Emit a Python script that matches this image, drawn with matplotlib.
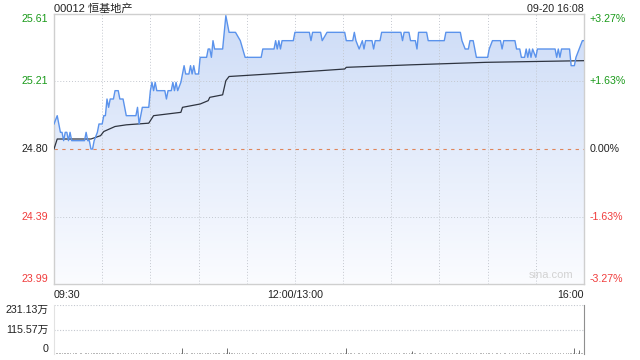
"""Intraday minute chart for 00012 (sina style): price + average line, volume below."""
import numpy as np
import matplotlib
matplotlib.use("Agg")
import matplotlib.pyplot as plt
from matplotlib.colors import LinearSegmentedColormap

plt.rcParams["font.family"] = ["Liberation Sans", "Noto Sans CJK SC", "DejaVu Sans"]

# ---- data ----
title = "00012 恒基地产"
stamp = "09-20 16:08"
prev_close = 24.80
y_ticks = [25.61, 25.21, 24.80, 24.39, 23.99]
pct_labels = ["+3.27%", "+1.63%", "0.00%", "-1.63%", "-3.27%"]
x_labels = ["09:30", "12:00/13:00", "16:00"]
x_label_pos = [0, 150, 330]
vol_labels = ["231.13万", "115.57万", "0"]
vol_max = 231.13

# minute index (0 = 09:30, 150 = 12:00/13:00, 330 = 16:00) and price
price_t = [0, 2, 3, 4, 5, 6, 7, 8, 9, 10, 11, 19, 20, 21, 22, 23, 24, 25, 27, 28,
           30, 31, 32, 33, 34, 35, 37, 38, 40, 41, 43, 45, 51, 52, 53, 55, 59, 60,
           61, 62, 63, 64, 69, 70, 71, 73, 74, 75, 76, 77, 79, 81, 82, 84, 85, 86,
           87, 88, 90, 91, 95, 96, 97, 98, 99, 100, 105, 107, 109, 113, 116, 119,
           129, 130, 137, 138, 139, 140, 141, 142, 149, 150, 159, 160, 161, 166,
           167, 170, 181, 182, 186, 187, 188, 190, 192, 193, 194, 198, 199, 200,
           203, 204, 216, 217, 218, 221, 222, 225, 226, 227, 232, 233, 243, 244,
           253, 254, 256, 258, 259, 261, 262, 263, 270, 271, 273, 278, 279, 280,
           287, 288, 290, 291, 293, 294, 295, 296, 297, 298, 300, 301, 312, 313,
           314, 315, 316, 321, 322, 324, 325, 327, 329, 330]
price_v = [24.95, 25.00, 24.95, 24.90, 24.90, 24.85, 24.90, 24.90, 24.85, 24.90,
           24.85, 24.85, 24.90, 24.85, 24.85, 24.80, 24.80, 24.85, 24.90, 24.95,
           24.95, 25.00, 25.00, 25.10, 25.05, 25.10, 25.10, 25.15, 25.15, 25.10,
           25.10, 25.00, 25.00, 25.05, 24.95, 25.05, 25.05, 25.15, 25.20, 25.15,
           25.20, 25.15, 25.15, 25.10, 25.15, 25.15, 25.20, 25.15, 25.20, 25.15,
           25.20, 25.30, 25.25, 25.25, 25.30, 25.25, 25.30, 25.25, 25.25, 25.35,
           25.35, 25.40, 25.40, 25.35, 25.45, 25.40, 25.40, 25.60, 25.50, 25.50,
           25.45, 25.35, 25.35, 25.40, 25.40, 25.45, 25.40, 25.45, 25.40, 25.45,
           25.45, 25.50, 25.50, 25.45, 25.50, 25.50, 25.45, 25.50, 25.50, 25.45,
           25.45, 25.50, 25.45, 25.40, 25.45, 25.40, 25.45, 25.45, 25.40, 25.45,
           25.45, 25.50, 25.50, 25.45, 25.50, 25.50, 25.45, 25.45, 25.40, 25.50,
           25.50, 25.45, 25.45, 25.50, 25.50, 25.45, 25.40, 25.40, 25.45, 25.45,
           25.40, 25.35, 25.35, 25.40, 25.45, 25.45, 25.40, 25.45, 25.45, 25.40,
           25.40, 25.35, 25.35, 25.40, 25.35, 25.40, 25.35, 25.40, 25.35, 25.40,
           25.40, 25.35, 25.40, 25.35, 25.40, 25.40, 25.30, 25.30, 25.35, 25.40,
           25.45, 25.45]

avg_t = [0, 2, 23, 26, 29, 31, 38, 45, 52, 59, 60, 62, 79, 80, 91, 96, 97, 105,
         107, 109, 134, 166, 181, 182, 222, 269, 330]
avg_v = [24.80, 24.86, 24.86, 24.87, 24.88, 24.905, 24.935, 24.945, 24.95, 24.955,
         24.97, 25.00, 25.02, 25.05, 25.07, 25.09, 25.11, 25.125, 25.21, 25.235,
         25.25, 25.27, 25.28, 25.29, 25.305, 25.32, 25.33]

# volume per minute, in 万 shares
volume = [
    9, 6, 5, 7, 4, 6, 5, 3, 4, 6, 3, 2, 4, 3, 5, 2, 3, 4, 2, 3, 5, 3, 2, 4, 3, 6, 4, 5, 3, 4,
    5, 3, 6, 4, 3, 5, 4, 3, 2, 4, 5, 3, 2, 3, 4, 2, 3, 2, 4, 3, 2, 3, 2, 3, 4, 2, 3, 5, 3, 2,
    6, 4, 3, 5, 4, 3, 2, 3, 4, 3, 2, 3, 4, 2, 3, 2, 3, 2, 4, 3, 27, 5, 4, 3, 2, 3, 4, 3, 2, 3,
    5, 4, 3, 2, 3, 4, 5, 3, 2, 4, 6, 3, 4, 3, 2, 4, 5, 7, 30, 8, 5, 4, 3, 2, 3, 4, 2, 3, 2, 3,
    2, 3, 2, 3, 4, 2, 3, 2, 2, 3, 4, 2, 3, 2, 3, 2, 4, 3, 2, 3, 2, 3, 4, 2, 3, 2, 3, 2, 3, 4,
    4, 3, 2, 3, 2, 4, 3, 2, 3, 2, 3, 2, 3, 4, 2, 3, 2, 3, 2, 3, 2, 4, 3, 2, 3, 2, 3, 2, 3, 4,
    3, 5, 28, 6, 4, 3, 2, 3, 2, 3, 4, 2, 3, 2, 3, 2, 3, 2, 4, 3, 2, 3, 2, 3, 2, 3, 4, 2, 3, 2,
    3, 2, 3, 4, 2, 3, 2, 3, 4, 3, 2, 4, 5, 16, 4, 3, 2, 3, 4, 2, 3, 2, 3, 2, 3, 4, 2, 3, 2, 3,
    2, 3, 2, 3, 4, 2, 3, 2, 3, 2, 4, 3, 2, 3, 4, 2, 3, 2, 3, 4, 2, 3, 2, 3, 2, 3, 4, 3, 2, 3,
    4, 3, 2, 3, 2, 3, 4, 2, 3, 2, 3, 4, 2, 3, 2, 3, 2, 3, 4, 2, 3, 2, 3, 2, 3, 4, 3, 2, 3, 2,
    3, 2, 3, 4, 2, 3, 2, 3, 2, 3, 4, 2, 3, 2, 3, 4, 2, 3, 2, 3, 4, 3, 5, 4, 28, 6, 5, 19, 6, 7,
    9,
]

# ---- styling ----
GREEN = "#1a9a1a"
RED = "#f03c3c"
DARK = "#222222"
GRID = "#c4c8cf"
FRAME = "#cfcfcf"
LINE = "#5b93ec"
AVG = "#2e3440"
label_colors = [GREEN, GREEN, DARK, RED, RED]

fig = plt.figure(figsize=(6.4, 3.6), dpi=100)
W, H = 640, 360
ax = fig.add_axes([54 / W, (H - 284) / H, 530 / W, 270 / H])
axv = fig.add_axes([54 / W, (H - 354) / H, 530 / W, 49 / H])

ylo, yhi = y_ticks[-1], y_ticks[0]

# gradient fill under the price line
cmap = LinearSegmentedColormap.from_list("fill", ["#cddcf7", "#fbfcff"])
grad = np.linspace(0, 1, 256).reshape(-1, 1)
im = ax.imshow(grad, extent=[0, 330, ylo, yhi], aspect="auto", cmap=cmap,
               origin="upper", zorder=1, interpolation="bilinear")
poly = ax.fill_between(price_t, price_v, ylo, color="none", lw=0)
im.set_clip_path(poly.get_paths()[0], transform=ax.transData)

ax.plot(price_t, price_v, color=LINE, lw=1.0, zorder=4)
ax.plot(avg_t, avg_v, color=AVG, lw=0.9, zorder=3)

# grid
for t in range(30, 330, 30):
    ax.axvline(t, color=GRID, lw=0.7, ls=(0, (1, 2)), zorder=2)
for y in (y_ticks[1], y_ticks[3]):
    ax.axhline(y, color=GRID, lw=0.7, ls=(0, (1, 2)), zorder=2)
ax.axhline(prev_close, color="#e0855a", lw=0.8, ls=(0, (3, 4)), zorder=2)

ax.set_xlim(0, 330)
ax.set_ylim(ylo, yhi)
ax.set_xticks([])
ax.set_yticks([])
for s in ax.spines.values():
    s.set_color(FRAME)
    s.set_linewidth(1.0)

# y labels (left prices, right percents); outer ones pushed inside
vas = ["top", "center", "center", "center", "bottom"]
for y, pl, c, va in zip(y_ticks, pct_labels, label_colors, vas):
    ax.annotate(f"{y:.2f}", (0, y), xycoords=("axes fraction", "data"),
                xytext=(-4, 0), textcoords="offset points",
                ha="right", va=va, fontsize=7.7, color=c)
    ax.annotate(pl, (1, y), xycoords=("axes fraction", "data"),
                xytext=(4, 0), textcoords="offset points",
                ha="left", va=va, fontsize=7.7, color=c)

for lab, pos, ha in zip(x_labels, x_label_pos, ["left", "center", "right"]):
    ax.annotate(lab, (pos, 0), xycoords=("data", "axes fraction"),
                xytext=(0, -4), textcoords="offset points",
                ha=ha, va="top", fontsize=7.7, color=DARK)

ax.text(0.0, 1.0, title, transform=ax.transAxes, ha="left", va="bottom",
        fontsize=8, color=DARK)
ax.text(1.0, 1.0, stamp, transform=ax.transAxes, ha="right", va="bottom",
        fontsize=7.7, color=DARK)
ax.text(0.98, 0.015, "sina.com", transform=ax.transAxes, ha="right",
        va="bottom", fontsize=8, color="#d2d2d2", zorder=5)

# ---- volume panel ----
mins = np.arange(len(volume))
axv.vlines(mins, 0, volume, color="#6e6e6e", lw=0.7)
axv.axhline(vol_max, color=GRID, lw=0.8, ls=(0, (1, 1.5)))
axv.axhline(vol_max / 2, color=GRID, lw=0.8, ls=(0, (1, 1.5)))
axv.set_xlim(0, 330)
axv.set_ylim(0, vol_max)
axv.set_xticks([])
axv.set_yticks([])
for side in ("top", "bottom"):
    axv.spines[side].set_visible(False)
axv.spines["left"].set_color("#e2e2e2")
axv.spines["right"].set_color("#8f8f8f")

for lab, y, va in zip(vol_labels, [vol_max, vol_max / 2, 0], ["top", "center", "bottom"]):
    axv.annotate(lab, (0, y), xycoords=("axes fraction", "data"),
                 xytext=(-4, 0), textcoords="offset points",
                 ha="right", va=va, fontsize=7.7, color=DARK)

fig.savefig("out.png", dpi=100)
